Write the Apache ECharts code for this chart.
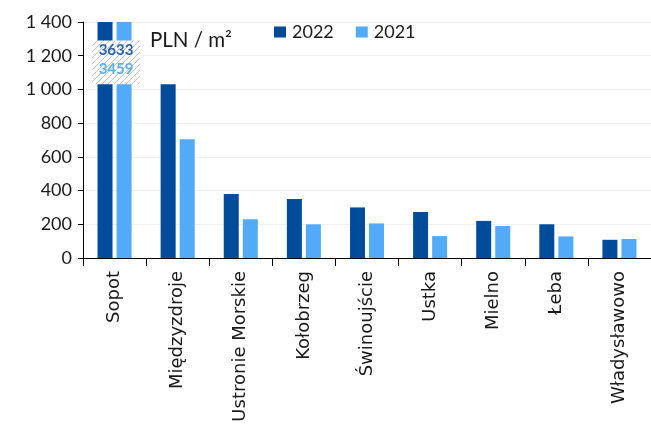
<!DOCTYPE html>
<html>
<head>
<meta charset="utf-8">
<script src="https://cdn.jsdelivr.net/npm/echarts@6/dist/echarts.min.js"></script>
<style>
  html, body { margin: 0; padding: 0; background: #fff; }
  #chart { width: 651px; height: 425px; }
</style>
</head>
<body>
<div id="chart"></div>
<script>
// Average price per square metre in Baltic seaside resorts
const towns = ['Sopot', 'Międzyzdroje', 'Ustronie Morskie', 'Kołobrzeg', 'Świnoujście', 'Ustka', 'Mielno', 'Łeba', 'Władysławowo'];
const values2022 = [3633, 1030, 380, 350, 300, 273, 220, 200, 108];
const values2021 = [3459, 705, 230, 200, 205, 130, 190, 128, 113];
const yTicks = [0, 200, 400, 600, 800, 1000, 1200, 1400];

const DARK = '#004c9b';
const LIGHT = '#52aaf8';
const FONT = 'Lato';
const LABEL_FONT = 'DejaVu Sans';

// Hatched fill for the axis-break box on the first category
function hatchPattern() {
  const c = document.createElement('canvas');
  c.width = 6; c.height = 6;
  const g = c.getContext('2d');
  g.fillStyle = '#ffffff';
  g.fillRect(0, 0, 6, 6);
  g.strokeStyle = '#c4c4c4';
  g.lineWidth = 1;
  g.beginPath();
  g.moveTo(0, 6); g.lineTo(6, 0);
  g.moveTo(-1, 1); g.lineTo(1, -1);
  g.moveTo(5, 7); g.lineTo(7, 5);
  g.stroke();
  return c;
}
const hatch = hatchPattern();

const yMax = yTicks[yTicks.length - 1];
const breakLow = 1030, breakHigh = 1290;

const chart = echarts.init(document.getElementById('chart'), null, { renderer: 'canvas' });
chart.setOption({
  animation: false,
  textStyle: { fontFamily: FONT },
  grid: { left: 83, right: 0, top: 22, bottom: 167, containLabel: false },
  legend: {
    left: 269, top: 18,
    itemWidth: 12, itemHeight: 11, itemGap: 22,
    icon: 'rect',
    textStyle: { fontFamily: FONT, fontSize: 18, color: '#1a1a1a', padding: [0, 0, 0, 1] },
    data: ['2022', '2021']
  },
  graphic: [{
    type: 'text', left: 150, top: 30,
    style: { text: 'PLN / m²', fontFamily: FONT, fontSize: 20.5, fill: '#1a1a1a' }
  }],
  xAxis: {
    type: 'category',
    data: towns,
    axisLine: { lineStyle: { color: '#000', width: 1 } },
    axisTick: { show: true, alignWithLabel: false, length: 8, lineStyle: { color: '#000' } },
    axisLabel: { rotate: 90, margin: 13, fontFamily: LABEL_FONT, fontSize: 18, color: '#1a1a1a', interval: 0 },
    splitLine: { show: false }
  },
  yAxis: {
    type: 'value',
    min: yTicks[0], max: yMax, interval: 200,
    axisLine: { show: true, lineStyle: { color: '#000', width: 1 } },
    axisTick: { show: true, length: 5, lineStyle: { color: '#000' } },
    axisLabel: {
      margin: 11, fontFamily: FONT, fontSize: 18, color: '#1a1a1a',
      formatter: v => String(v).replace(/\B(?=(\d{3})+(?!\d))/g, ' ')
    },
    splitLine: { show: true, lineStyle: { color: '#f0f0f0', width: 1 } }
  },
  series: [
    {
      name: '2022', type: 'bar', data: values2022,
      barWidth: 15, barGap: '27%', itemStyle: { color: DARK }, clip: true
    },
    {
      name: '2021', type: 'bar', data: values2021,
      barWidth: 15, itemStyle: { color: LIGHT }, clip: true
    },
    {
      // axis break marker with the true values of the clipped bars
      type: 'custom',
      name: 'break',
      silent: true,
      clip: false,
      z: 5,
      data: [[0, values2022[0], values2021[0]]],
      encode: { x: 0, y: -1 },
      renderItem: function (params, api) {
        const idx = api.value(0);
        const top = api.coord([idx, breakHigh]);
        const bottom = api.coord([idx, breakLow]);
        const band = api.size([1, 0])[0];
        const w = band * 0.76;
        const cx = top[0] + 1.5;
        const h = bottom[1] - top[1];
        return {
          type: 'group',
          children: [
            {
              type: 'rect',
              shape: { x: cx - w / 2, y: top[1], width: w, height: h },
              style: { fill: { image: hatch, repeat: 'repeat' } }
            },
            {
              type: 'text',
              style: {
                text: String(api.value(1)), x: cx, y: top[1] + h * 0.22,
                align: 'center', verticalAlign: 'middle',
                fontFamily: FONT, fontSize: 15, fontWeight: 'bold', fill: '#2a62ad'
              }
            },
            {
              type: 'text',
              style: {
                text: String(api.value(2)), x: cx, y: top[1] + h * 0.66,
                align: 'center', verticalAlign: 'middle',
                fontFamily: FONT, fontSize: 15, fontWeight: 'bold', fill: '#5aaeef'
              }
            }
          ]
        };
      }
    }
  ]
});
</script>
</body>
</html>
